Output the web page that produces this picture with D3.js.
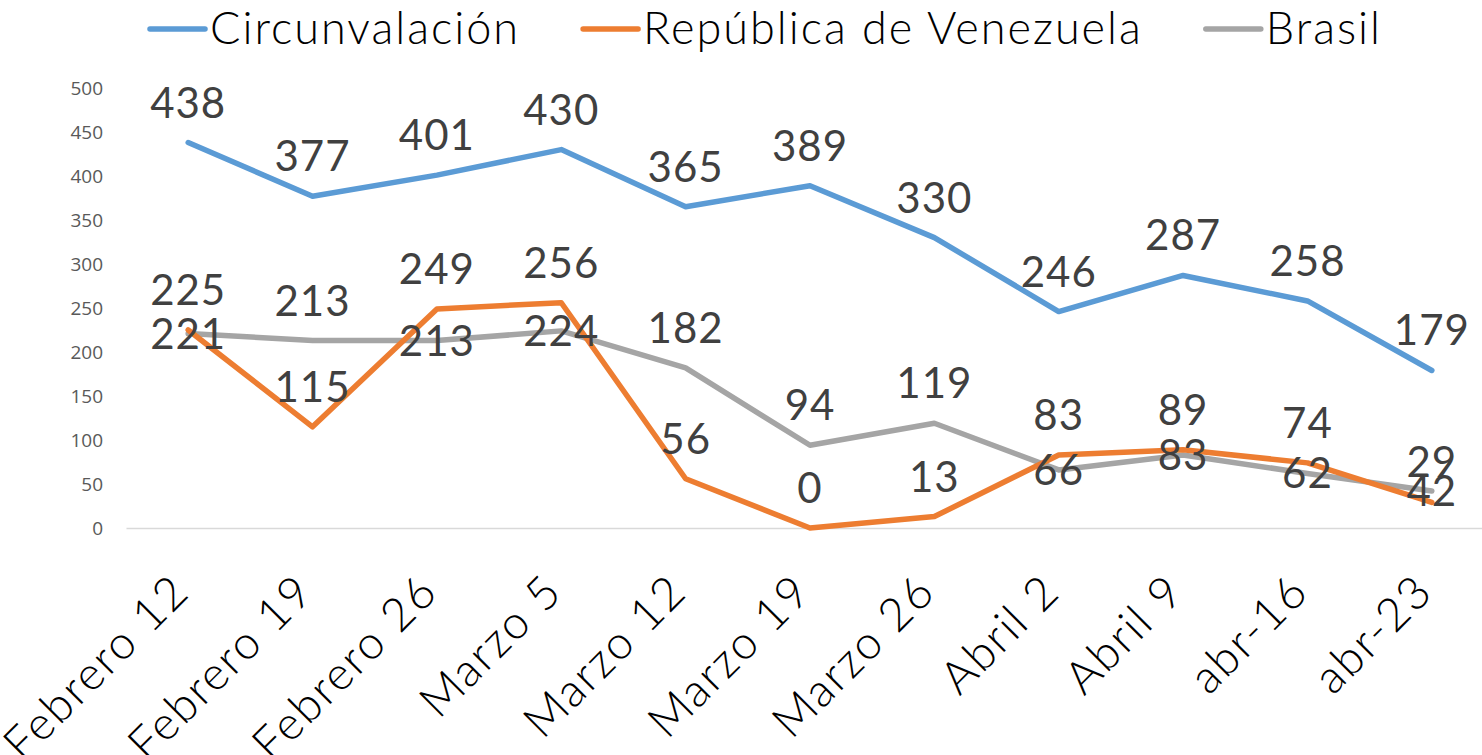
<!DOCTYPE html>
<html>
<head>
<meta charset="utf-8">
<script src="https://cdn.jsdelivr.net/npm/d3@7"></script>
<style>
  body { margin: 0; background: #fff; }
  svg { display: block; }
</style>
</head>
<body>
<svg id="chart"></svg>
<script>
// weeks on the x axis
const categories = [
  "Febrero 12", "Febrero 19", "Febrero 26", "Marzo 5", "Marzo 12",
  "Marzo 19", "Marzo 26", "Abril 2", "Abril 9", "abr-16", "abr-23"
];

// series values
const circunvalacion = [438, 377, 401, 430, 365, 389, 330, 246, 287, 258, 179];
const venezuela = [225, 115, 249, 256, 56, 0, 13, 83, 89, 74, 29];
const brasil = [221, 213, 213, 224, 182, 94, 119, 66, 83, 62, 42];

const yTicks = [0, 50, 100, 150, 200, 250, 300, 350, 400, 450, 500];

const seriesNames = ["Circunvalación", "República de Venezuela", "Brasil"];
const seriesColors = ["#5B9BD5", "#ED7D31", "#A5A5A5"];

const width = 1482, height = 755;
const mainFont = "Lato, 'Noto Sans', sans-serif";

const svg = d3.select("#chart")
  .attr("width", width)
  .attr("height", height);

// scales
const x = d3.scalePoint()
  .domain(categories)
  .range([126, 1494])
  .padding(0.5);

const y = d3.scaleLinear()
  .domain([0, 500])
  .range([528, 88]);

// y axis: labels only
const yAxisG = svg.append("g")
  .attr("transform", "translate(110,0)")
  .call(d3.axisLeft(y).tickValues(yTicks).tickSize(0).tickPadding(7));
yAxisG.select(".domain").remove();
yAxisG.selectAll("text")
  .attr("fill", "#595959")
  .style("font-family", "'Open Sans', 'Noto Sans', sans-serif")
  .style("font-size", "19px");

// x axis with rotated labels
const xAxisG = svg.append("g")
  .attr("transform", "translate(0,528)")
  .call(d3.axisBottom(x).tickSize(0).tickSizeOuter(0));
xAxisG.select(".domain")
  .attr("stroke", "#D9D9D9")
  .attr("stroke-width", 1.5);
xAxisG.selectAll("text")
  .attr("x", null)
  .attr("y", null)
  .attr("dy", null)
  .attr("text-anchor", "end")
  .attr("transform", "translate(3,66) rotate(-45)")
  .attr("fill", "#000")
  .style("font-family", mainFont)
  .style("font-weight", 300)
  .style("font-size", "46px")
  .style("letter-spacing", "2px");

// lines (grey first, so orange sits on top where they cross)
const allSeries = [circunvalacion, venezuela, brasil];
const line = d3.line()
  .x((d, i) => x(categories[i]))
  .y(d => y(d));

[2, 1, 0].forEach(s => {
  svg.append("path")
    .datum(allSeries[s])
    .attr("fill", "none")
    .attr("stroke", seriesColors[s])
    .attr("stroke-width", 5.5)
    .attr("stroke-linejoin", "round")
    .attr("stroke-linecap", "round")
    .attr("d", line);
});

// data labels
const labelG = svg.append("g")
  .style("font-family", mainFont)
  .style("font-size", "42px")
  .style("letter-spacing", "1px")
  .attr("fill", "#404040")
  .attr("text-anchor", "middle");

function addLabels(values, baselineFor) {
  labelG.selectAll(null)
    .data(values)
    .join("text")
    .attr("x", (d, i) => x(categories[i]))
    .attr("y", (d, i) => baselineFor(d, i))
    .text(d => d);
}

addLabels(circunvalacion, d => y(d) - 25);
addLabels(venezuela, d => y(d) - 25);
// grey labels go above unless they would run into the orange label, then centred on the point
addLabels(brasil, (d, i) => {
  const above = y(d) - 25;
  const orange = y(venezuela[i]) - 25;
  return Math.abs(above - orange) < 40 ? y(d) + 15 : above;
});

// legend
const legend = svg.append("g")
  .style("font-family", mainFont)
  .style("font-weight", 300)
  .style("font-size", "45px")
  .style("letter-spacing", "2px");

let cursor = 0;
seriesNames.forEach((name, i) => {
  const g = legend.append("g").attr("transform", `translate(${cursor},0)`);
  g.append("line")
    .attr("x1", 0).attr("x2", 55)
    .attr("y1", 29).attr("y2", 29)
    .attr("stroke", seriesColors[i])
    .attr("stroke-width", 5.5)
    .attr("stroke-linecap", "round");
  const t = g.append("text")
    .attr("x", 60)
    .attr("y", 44)
    .attr("fill", "#000")
    .text(name);
  cursor += 60 + t.node().getComputedTextLength() + 63;
});
const legendWidth = cursor - 63;
legend.attr("transform", `translate(${766 - legendWidth / 2},0)`);
</script>
</body>
</html>
